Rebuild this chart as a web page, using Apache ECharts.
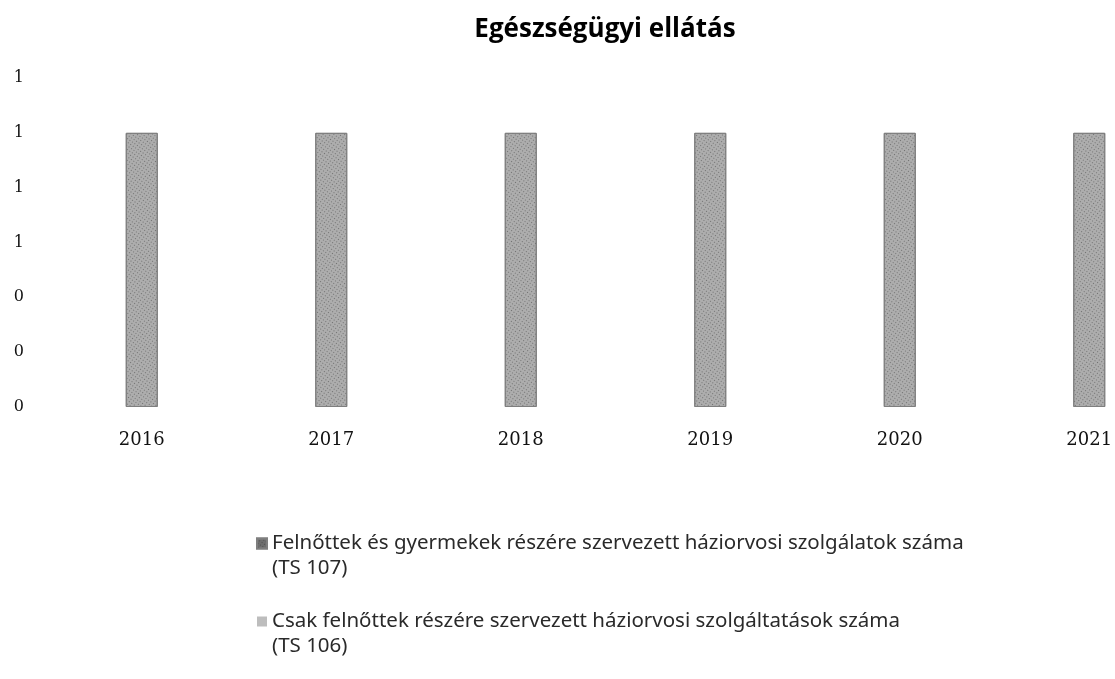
<!DOCTYPE html>
<html>
<head>
<meta charset="utf-8">
<title>Egészségügyi ellátás</title>
<script src="https://cdn.jsdelivr.net/npm/echarts@6/dist/echarts.min.js"></script>
<style>
  html, body { margin: 0; padding: 0; background: #fff; }
  #chart { width: 1115px; height: 679px; }
</style>
</head>
<body>
<div id="chart"></div>
<script>
// chart data
var years = ["2016", "2017", "2018", "2019", "2020", "2021"];
var ts107Name = "Felnőttek és gyermekek részére szervezett háziorvosi szolgálatok száma\n(TS 107)";
var ts106Name = "Csak felnőttek részére szervezett háziorvosi szolgáltatások száma\n(TS 106)";
var ts107 = [1, 1, 1, 1, 1, 1];
var ts106 = [0, 0, 0, 0, 0, 0];

var chart = echarts.init(document.getElementById("chart"));
chart.setOption({
  animation: false,
  title: {
    text: "Egészségügyi ellátás",
    left: 600,
    textAlign: "center",
    top: 12,
    textStyle: {
      fontFamily: "Open Sans",
      fontSize: 26,
      fontWeight: "bold",
      color: "#000"
    }
  },
  grid: {
    left: 47,
    right: -69,
    top: 78,
    bottom: 272,
    outerBoundsMode: "none"
  },
  legend: {
    orient: "vertical",
    left: 256,
    top: 506,
    height: 170,
    padding: 0,
    itemWidth: 10,
    itemHeight: 10,
    itemGap: 3,
    icon: "rect",
    data: [
      { name: ts107Name, itemStyle: { color: "#6e6e6e" } },
      { name: ts106Name, itemStyle: { color: "#bdbdbd" } }
    ],
    // blank first line keeps the icon level with the first text line
    formatter: function (name) { return " \n" + name; },
    textStyle: {
      fontFamily: "Noto Sans",
      fontSize: 20.5,
      lineHeight: 25,
      color: "#2a2a2a"
    }
  },
  xAxis: {
    type: "category",
    data: years,
    axisLine: { show: false },
    axisTick: { show: false },
    axisLabel: {
      margin: 24,
      fontFamily: "DejaVu Serif",
      fontSize: 18,
      color: "#111"
    }
  },
  yAxis: {
    type: "value",
    min: 0,
    max: 1.2,
    interval: 0.2,
    splitLine: { show: false },
    axisLine: { show: false },
    axisTick: { show: false },
    axisLabel: {
      margin: 23,
      fontFamily: "DejaVu Serif",
      fontSize: 16,
      color: "#111",
      formatter: function (v) { return Math.round(v); }
    }
  },
  series: [
    {
      name: ts107Name,
      type: "bar",
      stack: "total",
      barWidth: 32,
      data: ts107,
      itemStyle: {
        color: "#adadad",
        borderColor: "#7f7f7f",
        borderWidth: 1,
        decal: {
          symbol: "rect",
          symbolSize: 1,
          dashArrayX: [1, 2],
          dashArrayY: [1, 2],
          rotation: 0.6,
          color: "rgba(40,40,40,0.45)"
        }
      }
    },
    {
      name: ts106Name,
      type: "bar",
      stack: "total",
      barWidth: 32,
      data: ts106,
      itemStyle: { color: "#c4c4c4" }
    }
  ]
});
</script>
</body>
</html>
